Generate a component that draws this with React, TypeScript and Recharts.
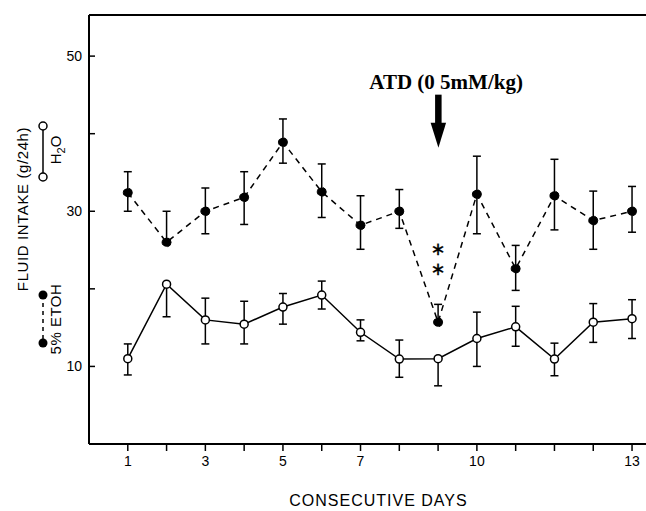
import React from 'react';
import { ComposedChart, Line, XAxis, YAxis, ErrorBar, ReferenceLine, ReferenceDot } from 'recharts';

// ---- data ----
const days = [1, 2, 3, 4, 5, 6, 7, 8, 9, 10, 11, 12, 13, 14];
const dayTickLabels = ['1', '', '3', '', '5', '', '7', '', '', '10', '', '', '', '13'];
const yTicks = [10, 20, 30, 40, 50];
const yTickLabels = ['10', '', '30', '', '50'];

// 5% ETOH (filled circles, dashed line)
const etohMean = [32.4, 26.0, 30.0, 31.8, 38.9, 32.5, 28.2, 30.0, 15.7, 32.2, 22.6, 32.0, 28.8, 30.0];
const etohErrLow = [2.4, 0, 2.9, 3.5, 2.7, 3.3, 3.1, 2.2, 0, 5.1, 2.8, 4.4, 3.7, 2.7];
const etohErrHigh = [2.7, 4.0, 3.0, 3.3, 3.0, 3.6, 3.8, 2.8, 2.3, 4.9, 3.0, 4.7, 3.8, 3.2];

// H2O (open circles, solid line)
const h2oMean = [11.0, 20.6, 16.0, 15.45, 17.65, 19.2, 14.4, 10.95, 11.0, 13.6, 15.1, 10.95, 15.7, 16.15];
const h2oErrLow = [2.1, 4.2, 3.1, 2.55, 2.2, 1.8, 1.1, 2.35, 3.5, 3.6, 2.5, 2.15, 2.6, 2.55];
const h2oErrHigh = [1.9, 0, 2.8, 2.95, 1.75, 1.8, 1.6, 2.45, 0, 3.4, 2.65, 2.05, 2.4, 2.45];

const annotationText = 'ATD (0 5mM/kg)';
const treatmentDay = 9;
const annotationLabelValue = 46.7;
const annotationArrowTipValue = 38.2;
const significanceMarks = [25.1, 22.6];
const significanceSymbol = '\u2217';

const xTitle = 'CONSECUTIVE DAYS';
const yTitle = 'FLUID INTAKE (g/24h)';

const Y_MAX = 55.3;
const PLOT_TOP = 15;

const data = days.map((d, i) => ({
  day: d,
  etoh: etohMean[i],
  etohErr: [etohErrLow[i], etohErrHigh[i]],
  h2o: h2oMean[i],
  h2oErr: [h2oErrLow[i], h2oErrHigh[i]],
}));

const FONT = '"Liberation Sans", Arial, Helvetica, sans-serif';
const SERIF = '"Liberation Serif", "Times New Roman", serif';

function YTick(props: any) {
  const { x, y, payload } = props;
  const ax = x + 7;
  const idx = yTicks.indexOf(payload.value);
  return (
    <g>
      <line x1={ax} x2={ax + 6} y1={y} y2={y} stroke="#000" strokeWidth={1.5} />
      <text x={x} y={y} dy="0.36em" textAnchor="end" fontSize={14} fontFamily={FONT} fill="#000">
        {yTickLabels[idx]}
      </text>
    </g>
  );
}

function XTitle(props: any) {
  const vb = props.viewBox || {};
  return (
    <text x={vb.x + vb.width / 2 + 11} y={506} textAnchor="middle" fontSize={16} fontFamily={FONT} fill="#000" letterSpacing={1}>
      {xTitle}
    </text>
  );
}

function YTitle() {
  return (
    <text transform="translate(28,209) rotate(-90)" textAnchor="middle" fontSize={15} fontFamily={FONT} fill="#000" letterSpacing={0.6}>
      {yTitle}
    </text>
  );
}

function ArrowShape(props: any) {
  const { cx, cy } = props;
  return (
    <g>
      <rect x={cx - 3} y={cy - 53} width={6.5} height={29} fill="#000" />
      <polygon points={`${cx - 7.5},${cy - 25} ${cx + 8},${cy - 25} ${cx + 0.3},${cy}`} fill="#000" />
    </g>
  );
}

function AnnotationLabel(props: any) {
  const { cx, cy } = props;
  return (
    <text x={cx + 8} y={cy} dy="0.35em" textAnchor="middle" fontSize={21} fontWeight="bold" fontFamily={SERIF} fill="#000">
      {annotationText}
    </text>
  );
}

function StarShape(props: any) {
  const { cx, cy } = props;
  return (
    <text x={cx} y={cy} dy="0.33em" textAnchor="middle" fontSize={18} fontFamily='"DejaVu Sans", sans-serif' fill="#000" stroke="#000" strokeWidth={0.3}>
      {significanceSymbol}
    </text>
  );
}

function LegendOverlay() {
  return (
    <svg width={90} height={511} style={{ position: 'absolute', left: 0, top: 0, pointerEvents: 'none' }}>
      <line x1={43} x2={43} y1={126} y2={177} stroke="#000" strokeWidth={1.5} />
      <circle cx={43} cy={126} r={4} fill="#fff" stroke="#000" strokeWidth={1.5} />
      <circle cx={43} cy={177} r={4} fill="#fff" stroke="#000" strokeWidth={1.5} />
      <text transform="translate(61,150) rotate(-90)" textAnchor="middle" fontSize={15} fontFamily={FONT} fill="#000">
        H<tspan fontSize={11} dy={4}>2</tspan><tspan dy={-4}>O</tspan>
      </text>
      <line x1={43} x2={43} y1={295} y2={343} stroke="#000" strokeWidth={1.5} strokeDasharray="4 4" />
      <circle cx={43} cy={295} r={4.5} fill="#000" />
      <circle cx={43} cy={343} r={4.5} fill="#000" />
      <text transform="translate(61,319) rotate(-90)" textAnchor="middle" fontSize={15} fontFamily={FONT} fill="#000" letterSpacing={0.5}>
        5% ETOH
      </text>
    </svg>
  );
}

export default function App() {
  return (
    <div style={{ position: 'absolute', left: 0, top: 0, width: 646, height: 511, background: '#fff' }}>
      <ComposedChart width={646} height={511} data={data} margin={{ top: PLOT_TOP, right: 0, bottom: 0, left: 0 }}>
        <XAxis
          dataKey="day"
          type="number"
          domain={[0, 14.36]}
          allowDataOverflow
          ticks={days}
          interval={0}
          tickFormatter={(v: number) => dayTickLabels[days.indexOf(v)]}
          height={67}
          tickSize={7}
          tickMargin={5}
          axisLine={{ stroke: '#000', strokeWidth: 2 }}
          tickLine={{ stroke: '#000', strokeWidth: 1.5 }}
          tick={{ fill: '#000', fontSize: 14, fontFamily: FONT }}
          label={<XTitle />}
        />
        <YAxis
          type="number"
          domain={[0, Y_MAX]}
          allowDataOverflow
          ticks={yTicks}
          interval={0}
          width={89}
          tickSize={0}
          tickMargin={7}
          tickLine={false}
          axisLine={{ stroke: '#000', strokeWidth: 2 }}
          tick={<YTick />}
          label={<YTitle />}
        />
        <ReferenceLine y={Y_MAX} stroke="#000" strokeWidth={2} />
        <Line
          dataKey="etoh"
          type="linear"
          stroke="#000"
          strokeWidth={1.5}
          strokeDasharray="6 5"
          dot={{ r: 4.5, fill: '#000', stroke: '#000', strokeWidth: 1 }}
          isAnimationActive={false}
        >
          <ErrorBar dataKey="etohErr" direction="y" width={4} stroke="#000" strokeWidth={1.5} />
        </Line>
        <Line
          dataKey="h2o"
          type="linear"
          stroke="#000"
          strokeWidth={1.5}
          dot={{ r: 4, fill: '#fff', stroke: '#000', strokeWidth: 1.5 }}
          isAnimationActive={false}
        >
          <ErrorBar dataKey="h2oErr" direction="y" width={4} stroke="#000" strokeWidth={1.5} />
        </Line>
        <ReferenceDot x={treatmentDay} y={annotationLabelValue} r={0} shape={<AnnotationLabel />} />
        <ReferenceDot x={treatmentDay} y={annotationArrowTipValue} r={0} shape={<ArrowShape />} />
        {significanceMarks.map((v, i) => (
          <ReferenceDot key={i} x={treatmentDay} y={v} r={0} shape={<StarShape />} />
        ))}
      </ComposedChart>
      <LegendOverlay />
    </div>
  );
}
